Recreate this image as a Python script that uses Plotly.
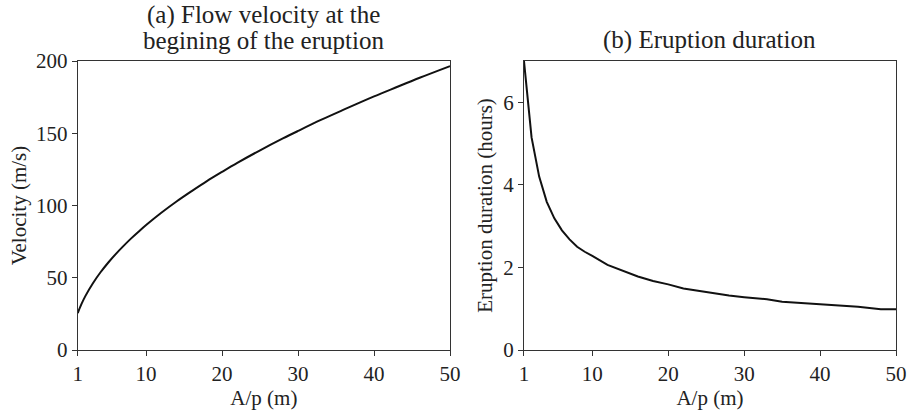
import plotly.graph_objects as go

# Panel (a): flow velocity vs A/p
ap_a = [1, 1.5, 2, 3, 4, 5, 6, 7, 8, 9, 10, 12, 14, 16, 18, 20, 22, 25, 28, 30, 33, 36, 40, 43, 46, 50]
velocity = [25.6, 31.9, 37.3, 46.2, 53.8, 60.4, 66.4, 71.9, 77.1, 81.9, 86.5, 95.0, 102.8, 110.0,
            116.9, 123.3, 129.5, 138.2, 146.4, 151.6, 159.2, 166.3, 175.5, 182.0, 188.4, 196.5]

# Panel (b): eruption duration vs A/p
ap_b = [1, 2, 3, 4, 5, 6, 7, 8, 9, 10, 12, 14, 15, 16, 18, 20, 22, 25, 28, 30, 33, 35, 38, 40,
        43, 45, 48, 50]
duration = [7.0, 5.15, 4.2, 3.59, 3.19, 2.9, 2.68, 2.5, 2.38, 2.28, 2.06, 1.92, 1.85, 1.78,
            1.67, 1.59, 1.49, 1.40, 1.32, 1.28, 1.23, 1.17, 1.13, 1.11, 1.07, 1.05, 0.99, 0.99]

x_ticks = [1, 10, 20, 30, 40, 50]
vel_ticks = [0, 50, 100, 150, 200]
dur_ticks = [0, 2, 4, 6]

FONT = "Liberation Serif, Times New Roman, serif"
TXT = "#222222"
AX = "#333333"
AXFONT = dict(family=FONT, size=21, color=TXT)

fig = go.Figure()
fig.add_trace(go.Scatter(x=ap_a, y=velocity, mode="lines", line=dict(color="#111111", width=2, shape="spline"),
                         xaxis="x", yaxis="y", showlegend=False))
fig.add_trace(go.Scatter(x=ap_b, y=duration, mode="lines", line=dict(color="#111111", width=2),
                         xaxis="x2", yaxis="y2", showlegend=False))

common = dict(showline=True, mirror=True, linecolor=AX, linewidth=1, ticks="outside", ticklen=5,
              tickcolor=AX, showgrid=False, zeroline=False, automargin=False,
              tickfont=AXFONT)

fig.update_layout(
    width=907, height=410,
    margin=dict(l=0, r=0, t=0, b=0),
    paper_bgcolor="white", plot_bgcolor="white",
    font=dict(family=FONT, color=TXT),
    xaxis=dict(domain=[0.0857, 0.4962], range=[1, 50], tickvals=x_ticks, anchor="y",
               title=dict(text="A/p (m)", standoff=0, font=AXFONT), **common),
    yaxis=dict(domain=[0.1463, 0.8512], range=[0, 200], tickvals=vel_ticks, anchor="x",
               title=dict(text="Velocity (m/s)", standoff=3, font=AXFONT), **common),
    xaxis2=dict(domain=[0.5777, 0.9879], range=[1, 50], tickvals=x_ticks, anchor="y2",
                title=dict(text="A/p (m)", standoff=0, font=AXFONT), **common),
    yaxis2=dict(domain=[0.1463, 0.8512], range=[0, 7], tickvals=dur_ticks, anchor="x2",
                title=dict(text="Eruption duration (hours)", standoff=4, font=AXFONT), **common),
    annotations=[
        dict(text="(a) Flow velocity at the", x=0.291, y=0.963,
             xref="paper", yref="paper", xanchor="center", yanchor="middle", showarrow=False,
             font=dict(family=FONT, size=25, color=TXT)),
        dict(text="begining of the eruption", x=0.291, y=0.902,
             xref="paper", yref="paper", xanchor="center", yanchor="middle", showarrow=False,
             font=dict(family=FONT, size=25, color=TXT)),
        dict(text="(b) Eruption duration", x=0.7828, y=0.902,
             xref="paper", yref="paper", xanchor="center", yanchor="middle", showarrow=False,
             font=dict(family=FONT, size=25, color=TXT)),
    ],
)

fig.write_html("out.html", config={"displayModeBar": False},
               post_script="document.body.style.margin='0';document.body.style.padding='0';")
